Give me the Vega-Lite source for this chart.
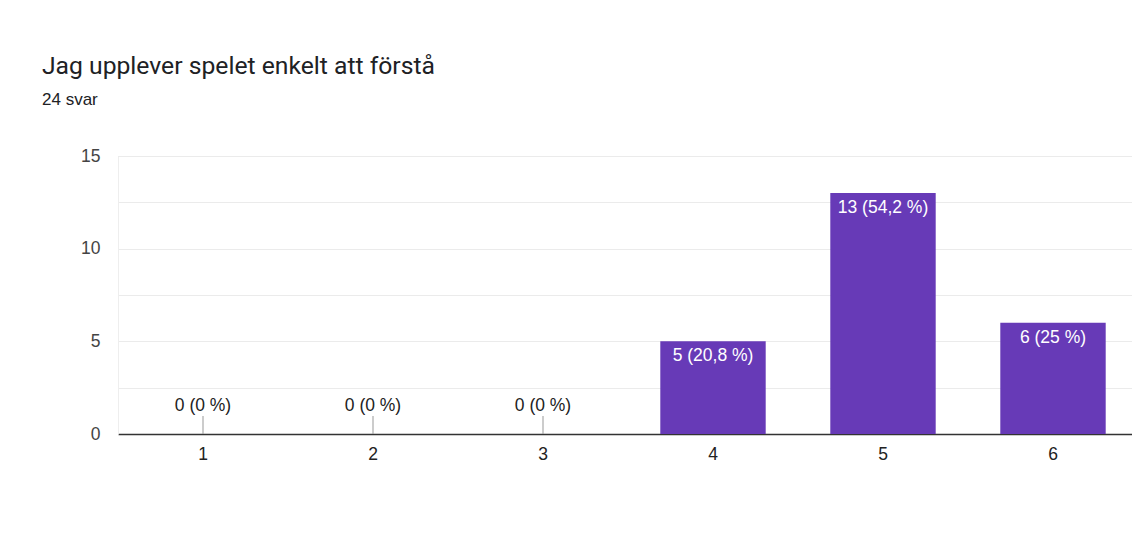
{
  "$schema": "https://vega.github.io/schema/vega-lite/v6.json",
  "autosize": {"type": "none"},
  "width": 1014,
  "height": 278,
  "padding": {"left": 118, "top": 156, "right": 0, "bottom": 107},
  "background": "white",
  "title": {
    "text": "Jag upplever spelet enkelt att förstå",
    "subtitle": "24 svar",
    "anchor": "start",
    "frame": "group",
    "dx": -76,
    "offset": 39,
    "font": "Roboto",
    "fontSize": 24.7,
    "fontWeight": "normal",
    "color": "#202124",
    "subtitleFont": "Liberation Sans",
    "subtitleFontSize": 17,
    "subtitleColor": "#202124",
    "subtitlePadding": 13
  },
  "data": {
    "values": [
      {"option": "1", "count": 0, "label": "0 (0 %)"},
      {"option": "2", "count": 0, "label": "0 (0 %)"},
      {"option": "3", "count": 0, "label": "0 (0 %)"},
      {"option": "4", "count": 5, "label": "5 (20,8 %)"},
      {"option": "5", "count": 13, "label": "13 (54,2 %)"},
      {"option": "6", "count": 6, "label": "6 (25 %)"}
    ]
  },
  "encoding": {
    "x": {
      "field": "option",
      "type": "nominal",
      "sort": null,
      "scale": {"range": [0, 1020], "paddingInner": 0.38, "paddingOuter": 0.19},
      "axis": {
        "title": null,
        "labelAngle": 0,
        "ticks": false,
        "labelPadding": 11,
        "labelFont": "Liberation Sans",
        "labelFontSize": 17.5,
        "labelColor": "#222222",
        "domainColor": "#333333",
        "domainWidth": 1.5,
        "grid": false
      }
    },
    "y": {
      "field": "count",
      "type": "quantitative",
      "scale": {"domain": [0, 15], "nice": false},
      "axis": {
        "title": null,
        "values": [0, 2.5, 5, 7.5, 10, 12.5, 15],
        "labelExpr": "datum.value % 5 == 0 ? datum.label : ''",
        "ticks": false,
        "labelPadding": 18,
        "labelFont": "Liberation Sans",
        "labelFontSize": 17.5,
        "labelColor": "#444444",
        "domainColor": "#eeeeee",
        "gridColor": "#ebebeb",
        "gridWidth": 1
      }
    }
  },
  "layer": [
    {
      "mark": {"type": "bar", "color": "#673ab7"}
    },
    {
      "transform": [{"filter": "datum.count == 0"}],
      "mark": {"type": "rule", "color": "#999999", "strokeWidth": 1, "y2Offset": -18},
      "encoding": {"y2": {"field": "count"}}
    },
    {
      "transform": [{"filter": "datum.count == 0"}],
      "mark": {"type": "text", "font": "Liberation Sans", "fontSize": 17.5, "color": "#222222", "baseline": "middle", "dy": -28},
      "encoding": {"text": {"field": "label"}}
    },
    {
      "transform": [{"filter": "datum.count > 0"}],
      "mark": {"type": "text", "font": "Liberation Sans", "fontSize": 17.5, "color": "#ffffff", "baseline": "middle", "dy": 15},
      "encoding": {"text": {"field": "label"}}
    }
  ]
}
